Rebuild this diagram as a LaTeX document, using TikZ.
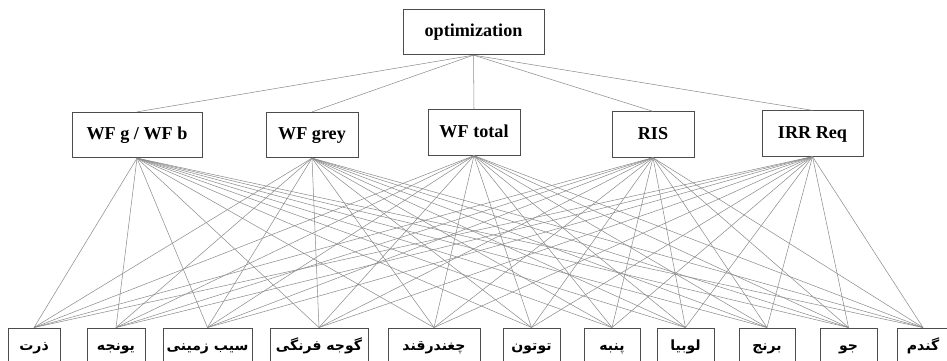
\documentclass[tikz,border=0pt]{standalone}
\usepackage{fontspec}
\setmainfont{Liberation Serif}
\newfontfamily\arabicfont[Script=Arabic]{DejaVu Sans}
\TeXXeTstate=1
\usetikzlibrary{positioning}
\tikzset{
    box/.style={draw=black!70, line width=0.8pt, fill=white, rectangle, inner sep=0pt, minimum height=1.36cm, text height=11pt, text depth=3pt, font=\fontsize{15.5}{18}\selectfont\bfseries}, % boxes of the top and middle rows
    cropbox/.style={box, minimum height=1.05cm, text height=11pt, text depth=3pt, font=\arabicfont\fontsize{12}{15}\selectfont\bfseries}, % boxes of the bottom row
    link/.style={draw=black!45, line width=0.45pt}, % the thin connecting lines
}
\begin{document}
\begin{tikzpicture}[x=0.03cm, y=-0.03cm]
    \useasboundingbox (0,0) rectangle (947,360);
    \clip (0,0) rectangle (947,360);
    \node[box, minimum width=4.23cm] (opt) at (473.5,32) {optimization};
    \node[box, minimum width=3.9cm] (m1) at (137,135) {WF g / WF b};
    \node[box, minimum width=2.76cm] (m2) at (312,135) {WF grey};
    \node[box, minimum width=2.76cm] (m3) at (474,132.5) {WF total};
    \node[box, minimum width=2.46cm] (m4) at (653,134.5) {RIS};
    \node[box, minimum width=3.03cm] (m5) at (812.5,133.5) {IRR Req};
    \foreach \x/\w/\i/\txt in {34/1.56/1/ذرت, 116/1.74/2/یونجه, 207.5/2.67/3/سیب زمینی, 319/2.94/4/گوجه فرنگی, 434/2.76/5/چغندرقند, 531.5/1.71/6/توتون, 612/1.68/7/پنبه, 685.5/1.71/8/لوبیا, 767/1.68/9/برنج, 848.5/1.71/10/جو, 923/1.56/11/گندم}
        \node[cropbox, minimum width=\w cm] (b\i) at (\x,345.5) {\beginR\txt\endR};
    \foreach \m in {m1,m2,m3,m4,m5}
        \draw[link] (opt.south) -- (\m.north);
    \foreach \m in {m1,m2,m3,m4,m5}
        \foreach \i in {1,...,11}
            \draw[link] (\m.south) -- (b\i.north);
\end{tikzpicture}
\end{document}
